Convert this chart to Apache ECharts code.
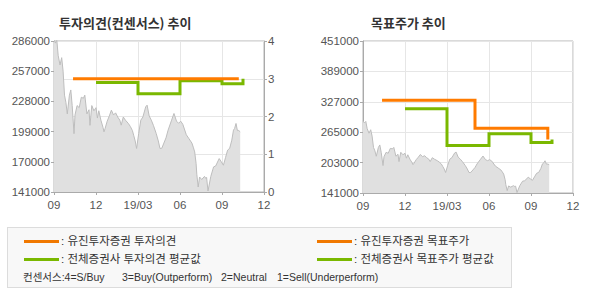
<!DOCTYPE html>
<html>
<head>
<meta charset="utf-8">
<script src="https://cdn.jsdelivr.net/npm/echarts@6/dist/echarts.min.js"></script>
<style>
  html, body { margin: 0; padding: 0; background: #fff; }
  #wrap { position: relative; width: 590px; height: 300px; overflow: hidden; }
  #chart { position: absolute; left: 0; top: 0; width: 590px; height: 300px; }
  #legend { position: absolute; left: 7px; top: 227px; width: 505px; height: 61px;
    background: #f8f8f8; border: 1px solid #dcdcdc; box-sizing: border-box; }
  .ln { position: absolute; height: 3px; width: 35px; }
  .tx { position: absolute; font-family: "Liberation Sans", "Noto Sans CJK KR", sans-serif; font-size: 11.5px;
    color: #333; white-space: pre; line-height: 14px; }
  .note { font-size: 10.5px; }
</style>
</head>
<body>
<div id="wrap">
  <div id="chart"></div>
  <div id="legend"></div>
</div>
<script>
// ---- data (x = months since 2018-09-01) ----
const xTickLabels = ['09', '12', '19/03', '06', '09', '12'];
const xTickMonths = [0, 3, 6, 9, 12, 15];

const priceMonths = [0.00, 0.10, 0.20, 0.30, 0.43, 0.55, 0.65, 0.75, 0.85, 0.95, 1.10, 1.20, 1.30, 1.43, 1.50,
  1.65, 1.80, 1.95, 2.10, 2.20, 2.35, 2.50, 2.57, 2.70, 2.85, 3.00, 3.10, 3.20, 3.35, 3.50, 3.57, 3.65, 3.80,
  3.95, 4.10, 4.25, 4.40, 4.55, 4.70, 4.80, 4.95, 5.10, 5.30, 5.45, 5.60, 5.70, 5.80, 5.90, 6.05, 6.20, 6.35,
  6.55, 6.65, 6.80, 6.95, 7.10, 7.30, 7.45, 7.57, 7.70, 7.85, 8.00, 8.15, 8.40, 8.57, 8.75, 8.90, 9.05, 9.20,
  9.45, 9.65, 9.85, 9.95, 10.05, 10.15, 10.20, 10.30, 10.40, 10.55, 10.75, 10.85, 10.90, 11.00, 11.20, 11.40,
  11.55, 11.80, 11.95, 12.10, 12.25, 12.40, 12.55, 12.70, 12.82, 12.90, 13.00, 13.10, 13.20, 13.30];
const prices = [288000, 284000, 287000, 272000, 263000, 270000, 257000, 234000, 227000, 216000, 234000, 239000,
  224000, 197000, 215000, 224000, 222000, 232000, 231000, 234000, 216000, 220000, 205000, 224000, 219000,
  222000, 212000, 219000, 210000, 203000, 198800, 202000, 209000, 214000, 219600, 215000, 217000, 213000,
  210000, 205200, 213000, 210000, 207000, 204000, 200000, 195000, 190000, 182800, 197200, 210000, 213000,
  222800, 224400, 214000, 210000, 205000, 197200, 190000, 182800, 183000, 188000, 193000, 200400, 210000,
  216400, 209000, 207000, 209000, 206000, 196000, 192000, 188000, 184000, 179500, 168300, 158000, 145800,
  155400, 153000, 156000, 154000, 155000, 142000, 156000, 165100, 166000, 173100, 170000, 166700, 174000,
  181200, 183000, 190800, 200400, 202000, 206800, 200000, 200000, 198800];

// consensus opinion (4=S/Buy ... 1=Sell)
const opinionTicks = [0, 1, 2, 3, 4];
const eugeneOpinionMonths = [1.36, 13.2];
const eugeneOpinion = [3, 3];
const avgOpinionMonths = [3, 6, 9, 12, 13.5];
const avgOpinion = [2.9, 2.6, 2.95, 2.87, 3.0];

// target price
const leftPriceTicks = [141000, 170000, 199000, 228000, 257000, 286000];
const rightPriceTicks = [141000, 203000, 265000, 327000, 389000, 451000];
const eugeneTargetMonths = [1.36, 8.0, 13.2];
const eugeneTarget = [330000, 273000, 250000];
const avgTargetMonths = [3, 6, 9, 12, 13.5];
const avgTarget = [313000, 238000, 262000, 244000, 250000];

// ---- chart ----
const ORANGE = '#ff7b00';
const GREEN = '#7ab800';
const AXIS = '#aaaaaa';
const SPLIT = '#e6e6e6';
const LABEL = '#555555';
const NUMFONT = '"Liberation Sans", Arial, sans-serif';

const zip = (xs, ys) => xs.map((x, i) => [x, ys[i]]);

function xAxisCfg(gi) {
  return {
    gridIndex: gi, type: 'value',
    min: xTickMonths[0], max: xTickMonths[xTickMonths.length - 1],
    interval: xTickMonths[1] - xTickMonths[0],
    axisLine: { show: true, lineStyle: { color: AXIS } },
    axisTick: { show: true, length: 3, lineStyle: { color: AXIS } },
    axisLabel: { color: LABEL, fontSize: 11.5, fontFamily: NUMFONT, margin: 7,
      showMinLabel: true, showMaxLabel: true,
      formatter: v => xTickLabels[xTickMonths.indexOf(v)] },
    splitLine: { show: true, lineStyle: { color: SPLIT } }
  };
}
function yAxisCfg(gi, ticks, pos, split) {
  return {
    gridIndex: gi, type: 'value', position: pos,
    min: ticks[0], max: ticks[ticks.length - 1], interval: ticks[1] - ticks[0],
    axisLine: { show: true, lineStyle: { color: AXIS } },
    axisTick: { show: true, length: 3, lineStyle: { color: AXIS } },
    axisLabel: { color: LABEL, fontSize: 11.5, fontFamily: NUMFONT, margin: 4,
      showMinLabel: true, showMaxLabel: true, formatter: v => String(v) },
    splitLine: { show: split, lineStyle: { color: SPLIT } }
  };
}
function areaSeries(xi, yi) {
  return {
    type: 'line', xAxisIndex: xi, yAxisIndex: yi, data: zip(priceMonths, prices),
    symbol: 'none', clip: true, z: 1, silent: true,
    lineStyle: { color: '#bdbdbd', width: 1 },
    areaStyle: { color: '#e0e0e0', opacity: 1 }
  };
}
function stepSeries(xi, yi, xs, ys, color, z) {
  return {
    type: 'line', xAxisIndex: xi, yAxisIndex: yi, data: zip(xs, ys), step: 'end',
    symbol: 'none', z: z, silent: true,
    lineStyle: { color: color, width: 3, cap: 'butt', join: 'miter' }
  };
}

const chart = echarts.init(document.getElementById('chart'), null, { renderer: 'svg' });
chart.setOption({
  animation: false,
  title: [
    { text: '투자의견(컨센서스) 추이', left: 54, top: 11,
      textStyle: { fontSize: 13, fontWeight: 'bold', color: '#333', fontFamily: '"Noto Sans CJK KR", sans-serif' } },
    { text: '목표주가 추이', left: 366, top: 11,
      textStyle: { fontSize: 13, fontWeight: 'bold', color: '#333', fontFamily: '"Noto Sans CJK KR", sans-serif' } }
  ],
  grid: [
    { left: 54, right: 326, top: 41, bottom: 108, show: true, borderColor: '#b4b4b4', borderWidth: 1,
      backgroundColor: 'transparent', outerBoundsMode: 'none', containLabel: false },
    { left: 363, right: 17, top: 41, bottom: 107, show: true, borderColor: '#b4b4b4', borderWidth: 1,
      backgroundColor: 'transparent', outerBoundsMode: 'none', containLabel: false }
  ],
  xAxis: [xAxisCfg(0), xAxisCfg(1)],
  yAxis: [
    yAxisCfg(0, leftPriceTicks, 'left', false),
    yAxisCfg(0, opinionTicks, 'right', true),
    yAxisCfg(1, rightPriceTicks, 'left', true)
  ],
  series: [
    areaSeries(0, 0),
    stepSeries(0, 1, avgOpinionMonths, avgOpinion, GREEN, 3),
    stepSeries(0, 1, eugeneOpinionMonths, eugeneOpinion, ORANGE, 4),
    areaSeries(1, 2),
    stepSeries(1, 2, avgTargetMonths, avgTarget, GREEN, 3),
    stepSeries(1, 2, eugeneTargetMonths, eugeneTarget, ORANGE, 4)
  ]
});

// ---- legend (HTML) ----
const legendItems = [
  { color: '#f07800', text: ': 유진투자증권 투자의견', x: 16, y: 12 },
  { color: GREEN, text: ': 전체증권사 투자의견 평균값', x: 16, y: 30 },
  { color: '#f07800', text: ': 유진투자증권 목표주가', x: 309, y: 12 },
  { color: GREEN, text: ': 전체증권사 목표주가 평균값', x: 309, y: 30 }
];
const consensusNotes = [
  { text: '컨센서스:4=S/Buy', x: 15 },
  { text: '3=Buy(Outperform)', x: 114 },
  { text: '2=Neutral', x: 213 },
  { text: '1=Sell(Underperform)', x: 269 }
];
const lg = document.getElementById('legend');
legendItems.forEach(it => {
  const l = document.createElement('div');
  l.className = 'ln';
  l.style.left = it.x + 'px'; l.style.top = (it.y) + 'px'; l.style.background = it.color;
  lg.appendChild(l);
  const t = document.createElement('div');
  t.className = 'tx';
  t.style.left = (it.x + 37) + 'px'; t.style.top = (it.y - 6) + 'px';
  t.textContent = it.text;
  lg.appendChild(t);
});
consensusNotes.forEach(it => {
  const t = document.createElement('div');
  t.className = 'tx note';
  t.style.left = it.x + 'px'; t.style.top = '42px';
  t.textContent = it.text;
  lg.appendChild(t);
});
</script>
</body>
</html>
